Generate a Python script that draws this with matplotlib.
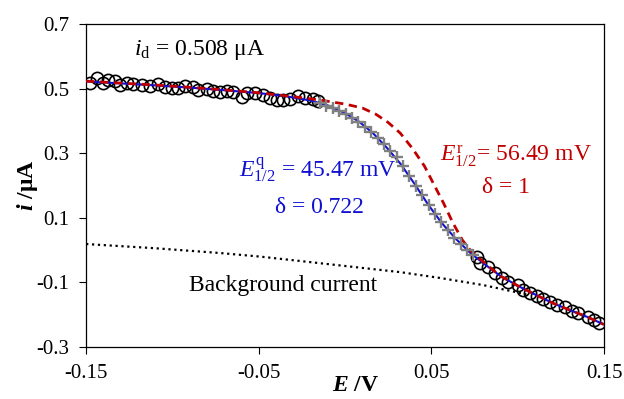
import numpy as np
import matplotlib
matplotlib.use("Agg")
import matplotlib.pyplot as plt

plt.rcParams['font.family'] = ['Liberation Serif', 'DejaVu Serif']
plt.rcParams['mathtext.fontset'] = 'custom'
plt.rcParams['mathtext.rm'] = 'Liberation Serif'
plt.rcParams['mathtext.it'] = 'Liberation Serif:italic'
plt.rcParams['mathtext.bf'] = 'Liberation Serif:bold:italic'

# measured points (circles), plateau part
exp_x1 = [-0.1477, -0.1438, -0.1402, -0.1373, -0.1332, -0.1303, -0.1264, -0.1228,
          -0.1177, -0.1129, -0.1083, -0.1042, -0.1004, -0.0967, -0.0927, -0.0880,
          -0.0851, -0.0801, -0.0765, -0.0724, -0.0685, -0.0649, -0.0598, -0.0569,
          -0.0521, -0.0475, -0.0434, -0.0396, -0.0359, -0.0319, -0.0272, -0.0232,
          -0.0185, -0.0156]
exp_y1 = [0.516, 0.532, 0.517, 0.527, 0.524, 0.511, 0.516, 0.514,
          0.511, 0.508, 0.514, 0.506, 0.501, 0.501, 0.508, 0.506,
          0.496, 0.498, 0.494, 0.490, 0.492, 0.490, 0.475, 0.485,
          0.487, 0.480, 0.470, 0.465, 0.465, 0.467, 0.477, 0.470,
          0.467, 0.462]

# measured points (circles), tail part
exp_x2 = [0.0766, 0.0782, 0.0828, 0.0869, 0.0907, 0.0944, 0.1002, 0.1031, 0.1071,
          0.1112, 0.1147, 0.1187, 0.1228, 0.1274, 0.1315, 0.1349, 0.1407, 0.1442,
          0.1471]
exp_y2 = [-0.020, -0.040, -0.052, -0.071, -0.086, -0.098, -0.108, -0.124, -0.133,
          -0.142, -0.151, -0.161, -0.170, -0.176, -0.189, -0.195, -0.207, -0.216,
          -0.226]

# points used in the fit (crosses)
fit_x = [-0.0145, -0.0108, -0.0071, -0.0034, 0.0003, 0.0040, 0.0077, 0.0114, 0.0151,
         0.0188, 0.0225, 0.0262, 0.0299, 0.0336, 0.0373, 0.0410, 0.0447, 0.0484,
         0.0521, 0.0558, 0.0595, 0.0632, 0.0669, 0.0706, 0.0743]
fit_y = [0.454, 0.447, 0.439, 0.430, 0.420, 0.408, 0.396, 0.382, 0.365,
         0.347, 0.328, 0.308, 0.288, 0.261, 0.231, 0.200, 0.170, 0.140,
         0.112, 0.086, 0.061, 0.039, 0.018, 0.000, -0.016]

# quasi-reversible fit curve (blue)
quasi_x = [-0.15, -0.13, -0.11, -0.09, -0.07, -0.05, -0.035, -0.02, -0.01, 0.0,
           0.008, 0.016, 0.024, 0.032, 0.04, 0.048, 0.056, 0.064, 0.072, 0.08,
           0.09, 0.10, 0.11, 0.12, 0.13, 0.14, 0.15]
quasi_y = [0.522, 0.516, 0.510, 0.503, 0.495, 0.486, 0.477, 0.463, 0.448, 0.424,
           0.398, 0.363, 0.318, 0.268, 0.207, 0.142, 0.084, 0.036, -0.006, -0.040,
           -0.080, -0.110, -0.137, -0.163, -0.185, -0.206, -0.230]

# reversible curve (red dashed)
rev_x = [-0.15, -0.13, -0.11, -0.09, -0.07, -0.05, -0.03, -0.015, 0.0, 0.01, 0.018,
         0.025, 0.032, 0.039, 0.046, 0.051, 0.057, 0.0625, 0.068, 0.0725, 0.077,
         0.082, 0.09, 0.10, 0.11, 0.12, 0.13, 0.14, 0.15]
rev_y = [0.523, 0.517, 0.511, 0.504, 0.496, 0.487, 0.475, 0.465, 0.452, 0.440, 0.420,
         0.395, 0.362, 0.315, 0.260, 0.208, 0.146, 0.084, 0.031, 0.000, -0.022,
         -0.045, -0.080, -0.110, -0.137, -0.163, -0.185, -0.206, -0.230]

# background current (dotted)
bg_x = [-0.15, -0.11, -0.072, -0.049, -0.01, 0.032, 0.055, 0.08, 0.100, 0.105]
bg_y = [0.019, 0.006, -0.009, -0.020, -0.043, -0.068, -0.086, -0.108, -0.131, -0.137]

blue = '#1010D0'
red = '#C00000'

fig = plt.figure(figsize=(6.24, 3.99), dpi=100)
ax = fig.add_axes([0.138, 0.130, 0.830, 0.810])

ax.plot(bg_x, bg_y, color='black', linestyle=':', linewidth=1.6, zorder=2)
ax.plot(exp_x1, exp_y1, 'o', mfc='none', mec='black', ms=8.8, mew=1.2, zorder=2)
ax.plot(exp_x2, exp_y2, 'o', mfc='none', mec='black', ms=8.8, mew=1.2, zorder=2)
ax.plot(quasi_x, quasi_y, color=blue, linewidth=1.5, zorder=3)
ax.plot(fit_x, fit_y, '+', color='#808080', ms=9, mew=1.7, zorder=4)
ax.plot(rev_x, rev_y, color=red, linewidth=2.0, dashes=(3, 2), zorder=3)

ax.set_xlim(-0.15, 0.15)
ax.set_ylim(-0.3, 0.7)
ax.set_xticks([-0.15, -0.05, 0.05, 0.15])
ax.set_xticklabels(['-0.15', '-0.05', '0.05', '0.15'])
ax.set_yticks([-0.3, -0.1, 0.1, 0.3, 0.5, 0.7])
ax.set_yticklabels(['-0.3', '-0.1', '0.1', '0.3', '0.5', '0.7'])
ax.tick_params(direction='out', length=5, width=0.8, labelsize=15,
               top=False, right=False)
ax.tick_params(axis='y', pad=7)
ax.tick_params(axis='x', pad=7)
for s in ax.spines.values():
    s.set_linewidth(0.9)

ax.set_xlabel(r'$\mathbf{E}$ /V', fontsize=17, fontweight='bold', va='top')
ax.xaxis.set_label_coords(0.521, -0.085)
ax.set_ylabel(r'$\mathbf{i}$ /μA', fontsize=17, fontweight='bold', va='center', ha='center')
ax.yaxis.set_label_coords(-0.114, 0.5)

ax.text(-0.1225, 0.62, r'$i_{\mathrm{d}}$ = 0.508 μA', fontsize=17, va='center', ha='left')
ax.text(-0.016, 0.248, r'$E^{\mathrm{q}}_{1/2}$ = 45.47 mV', fontsize=17, color=blue,
        ha='center', va='center')
ax.text(-0.015, 0.133, 'δ = 0.722', fontsize=17, color=blue, ha='center', va='center')
ax.text(0.099, 0.29, r'$E^{\mathrm{r}}_{1/2}$= 56.49 mV', fontsize=17, color=red,
        ha='center', va='center')
ax.text(0.093, 0.195, 'δ = 1', fontsize=17, color=red, ha='center', va='center')
ax.text(-0.036, -0.108, 'Background current', fontsize=17, ha='center', va='center')

fig.savefig('out.png', dpi=100)
